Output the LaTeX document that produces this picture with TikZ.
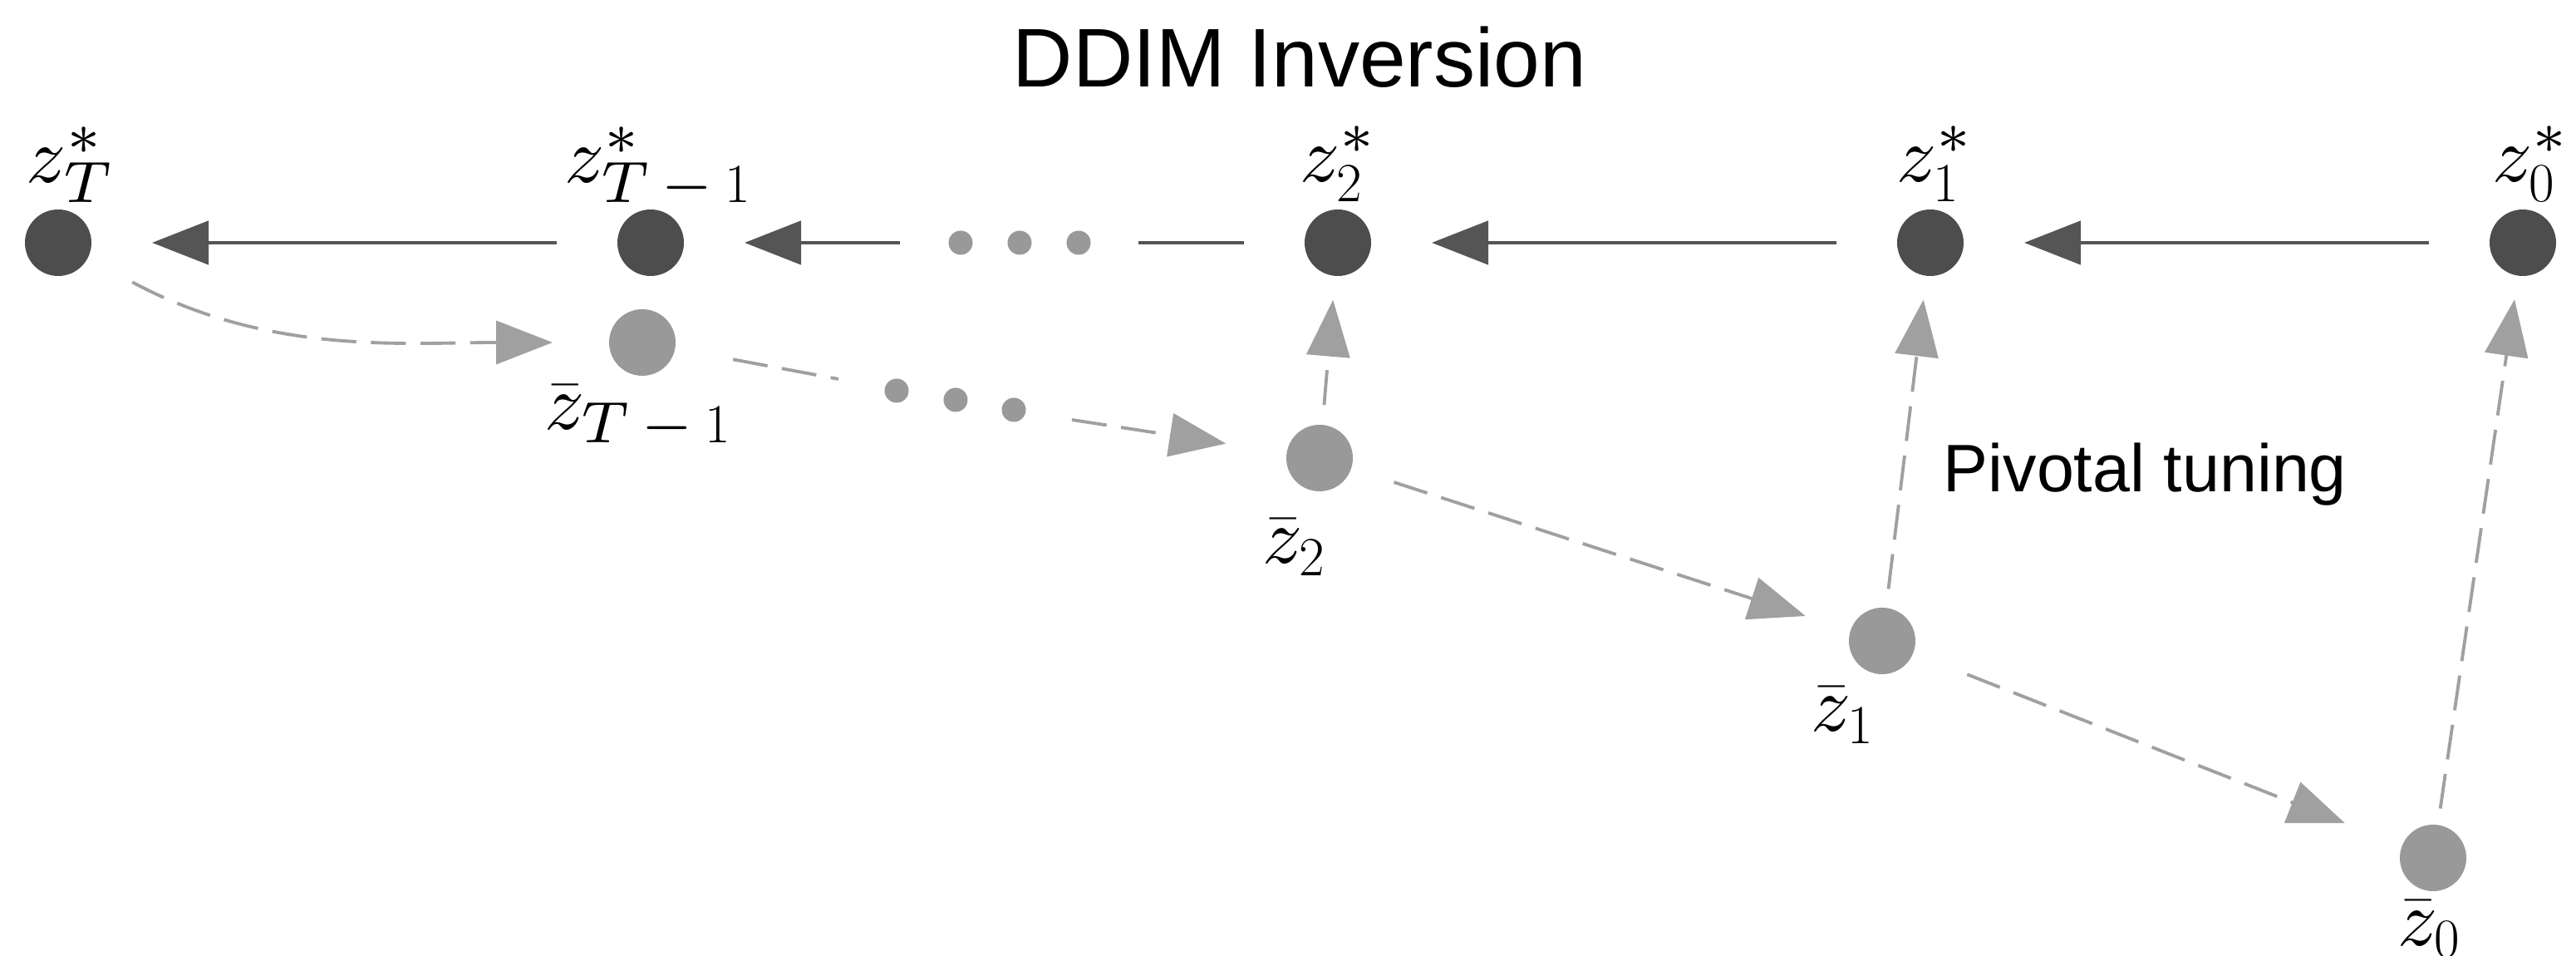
\RequirePackage{fix-cm}
\documentclass[tikz,border=0pt]{standalone}
\usepackage{fontspec}
\usetikzlibrary{arrows.meta}
\newfontfamily\titlefont{Liberation Sans}
\definecolor{darkdot}{HTML}{4D4D4D}
\definecolor{darkline}{HTML}{555555}
\definecolor{lightdot}{HTML}{999999}
\definecolor{lightline}{HTML}{A0A0A0}
% label fonts: cmmi10 for the base letter, cmmi7 design for sub/superscripts
\font\lbmi=cmmi10 at 27pt \font\lbmis=cmmi7 at 20pt \font\lbmiss=cmmi5 at 14pt
\font\lbrm=cmr10 at 27pt  \font\lbrms=cmr7 at 20pt  \font\lbrmss=cmr5 at 14pt
\font\lbsy=cmsy10 at 27pt \font\lbsys=cmsy7 at 20pt \font\lbsyss=cmsy5 at 14pt
\newcommand{\lf}{%
  \textfont1=\lbmi \scriptfont1=\lbmis \scriptscriptfont1=\lbmiss
  \textfont0=\lbrm \scriptfont0=\lbrms \scriptscriptfont0=\lbrmss
  \textfont2=\lbsy \scriptfont2=\lbsys \scriptscriptfont2=\lbsyss}
\newcommand{\smin}{\mskip3mu-\mskip3mu}
\tikzset{
  bigdark/.style={circle, fill=darkdot, minimum size=0.8cm, inner sep=0pt, outer sep=0pt},
  biglight/.style={circle, fill=lightdot, minimum size=0.8cm, inner sep=0pt, outer sep=0pt},
  smalldot/.style={circle, fill=lightdot, minimum size=0.29cm, inner sep=0pt},
  mathlabel/.style={anchor=base, inner sep=0pt, font=\fontsize{27}{32}\selectfont},
  solidline/.style={draw=darkline, line width=1.4pt},
  darktip/.style={-{Triangle[length=0.68cm,width=0.52cm]}},
  lightdash/.style={draw=lightline, line width=1.1pt, dash pattern=on 12pt off 5pt},
  lighttip/.style={-{Triangle[length=0.68cm,width=0.52cm]}},
}
\begin{document}
\begin{tikzpicture}
\useasboundingbox (0,0) rectangle (31,-11.5);
% title
\node[anchor=base, inner sep=0pt, font=\titlefont\fontsize{28.5}{34}\selectfont] (title) at (15.64,-1.05) {DDIM Inversion};
% main dots
\node[bigdark] (zTs) at (0.70,-2.92) {};
\node[bigdark] (zT1s) at (7.83,-2.92) {};
\node[bigdark] (z2s) at (16.10,-2.92) {};
\node[bigdark] (z1s) at (23.23,-2.92) {};
\node[bigdark] (z0s) at (30.36,-2.92) {};
\node[biglight] (zbT1) at (7.73,-4.12) {};
\node[biglight] (zb2) at (15.88,-5.51) {};
\node[biglight] (zb1) at (22.65,-7.71) {};
\node[biglight] (zb0) at (29.28,-10.32) {};
% labels
\node[mathlabel] (lzTs) at ([xshift=0.14cm,yshift=0.72cm]zTs.center) {$\lf z_T^*$};
\node[mathlabel] (lzT1s) at ([xshift=0.09cm,yshift=0.72cm]zT1s.center) {$\lf z_{T\smin1}^*$};
\node[mathlabel] (lz2s) at ([xshift=0.0cm,yshift=0.73cm]z2s.center) {$\lf z_2^*$};
\node[mathlabel] (lz1s) at ([xshift=0.05cm,yshift=0.73cm]z1s.center) {$\lf z_1^*$};
\node[mathlabel] (lz0s) at ([xshift=0.09cm,yshift=0.73cm]z0s.center) {$\lf z_0^*$};
\node[mathlabel] (lzbT1) at ([xshift=-0.05cm,yshift=-1.05cm]zbT1.center) {$\lf \bar{z}_{T\smin1}$};
\node[mathlabel] (lzb2) at ([xshift=-0.30cm,yshift=-1.27cm]zb2.center) {$\lf \bar{z}_2$};
\node[mathlabel] (lzb1) at ([xshift=-0.47cm,yshift=-1.09cm]zb1.center) {$\lf \bar{z}_1$};
\node[mathlabel] (lzb0) at ([xshift=-0.04cm,yshift=-1.05cm]zb0.center) {$\lf \bar{z}_0$};
% pivotal tuning
\node[anchor=base west, inner sep=0pt, font=\titlefont\fontsize{23}{28}\selectfont] (pivot) at (23.38,-5.92) {Pivotal tuning};
% ellipsis dots
\node[smalldot] (u1) at (11.56,-2.92) {};
\node[smalldot] (u2) at (12.27,-2.92) {};
\node[smalldot] (u3) at (12.98,-2.92) {};
\node[smalldot] (l1) at (10.79,-4.70) {};
\node[smalldot] (l2) at (11.50,-4.81) {};
\node[smalldot] (l3) at (12.20,-4.93) {};
\coordinate (ua) at (10.83,-2.92);
\coordinate (ub) at (13.70,-2.92);
\coordinate (la) at (10.09,-4.56);
\coordinate (lb) at (12.90,-5.05);
% solid arrows (top row)
\draw[solidline, darktip, shorten <=0.73cm, shorten >=0.73cm] (zT1s) -- (zTs);
\draw[solidline, shorten <=0.73cm] (z2s) -- (ub);
\draw[solidline, darktip, shorten >=0.73cm] (ua) -- (zT1s);
\draw[solidline, darktip, shorten <=0.73cm, shorten >=0.73cm] (z1s) -- (z2s);
\draw[solidline, darktip, shorten <=0.73cm, shorten >=0.73cm] (z0s) -- (z1s);
% dashed arrows
\draw[lightdash, lighttip, shorten <=0.61cm, shorten >=0.68cm] (zTs) to[out=-28, in=180] (zbT1);
\draw[lightdash, shorten <=0.71cm] (zbT1) -- (la);
\draw[lightdash, lighttip, shorten >=0.74cm] (lb) -- (zb2);
\draw[lightdash, lighttip, shorten <=0.24cm, shorten >=0.29cm] (zb2) -- (z2s);
\draw[lightdash, lighttip, shorten <=0.23cm, shorten >=0.29cm] (zb1) -- (z1s);
\draw[lightdash, lighttip, shorten <=0.20cm, shorten >=0.29cm] (zb0) -- (z0s);
\draw[lightdash, lighttip, shorten <=0.54cm, shorten >=0.57cm] (zb2) -- (zb1);
\draw[lightdash, lighttip, shorten <=0.70cm, shorten >=0.74cm] (zb1) -- (zb0);
\end{tikzpicture}
\end{document}
